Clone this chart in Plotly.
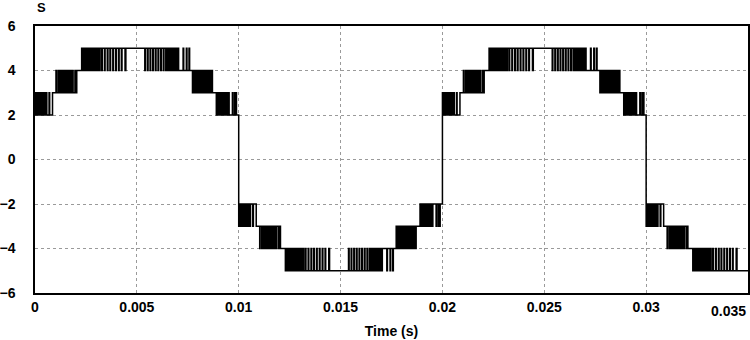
import plotly.graph_objects as go

# ---- data (times in ms, relative to half-cycle start) ----
half_cycle_starts_ms = [0, 10, 20, 30]
half_cycle_signs = [1, -1, 1, -1]
end_time_ms = 35.0
start_level = 2

band_A_up = [0.00, 0.03, 0.10, 0.13, 0.19, 0.22, 0.27, 0.31, 0.36, 0.40, 0.45, 0.49, 0.54, 0.58,
             0.69, 0.72, 0.86]
band_B_up = [1.03, 1.05, 1.13, 1.15, 1.21, 1.24, 1.30, 1.34, 1.39, 1.43, 1.48, 1.52, 1.57, 1.61,
             1.66, 1.70, 1.75, 1.79, 1.84, 1.87, 1.96, 1.98, 2.05]
band_C_up = [2.29, 2.31, 2.38, 2.41, 2.46, 2.50, 2.55, 2.59, 2.64, 2.68, 2.73, 2.77, 2.82, 2.86,
             2.91, 2.95, 3.00, 3.04, 3.09, 3.13, 3.19,
             3.27, 3.30, 3.41, 3.44, 3.55, 3.58, 3.68, 3.71, 3.82, 3.85, 3.96, 3.99, 4.10, 4.13,
             4.24, 4.27, 4.42, 4.46]
band_C_down = [5.39, 5.42, 5.52, 5.55, 5.65, 5.68, 5.78, 5.81, 5.91, 5.94, 6.04, 6.07, 6.17, 6.20,
               6.30, 6.33,
               6.42, 6.46, 6.51, 6.55, 6.60, 6.64, 6.69, 6.73, 6.78, 6.82, 6.87, 6.91, 6.96, 7.00,
               7.05,
               7.27, 7.30, 7.43, 7.46, 7.56, 7.59]
band_B_down = [7.73, 7.75, 7.81, 7.85, 7.90, 7.94, 7.99, 8.03, 8.08, 8.12, 8.17, 8.21, 8.26, 8.30,
               8.35, 8.39, 8.44, 8.48, 8.53, 8.60, 8.63, 8.68, 8.71]
band_A_down = [8.90, 8.93, 9.00, 9.03, 9.08, 9.12, 9.17, 9.21, 9.26, 9.30, 9.35, 9.39, 9.44, 9.48,
               9.53, 9.69, 9.72, 9.80, 9.83, 9.86, 9.89]

# each band: (low level, high level, starts at high?, toggle times)
bands = [
    (2, 3, False, band_A_up),
    (3, 4, False, band_B_up),
    (4, 5, False, band_C_up),
    (4, 5, True, band_C_down),
    (3, 4, True, band_B_down),
    (2, 3, True, band_A_down),
]

x_ticks = [0, 0.005, 0.01, 0.015, 0.02, 0.025, 0.03]
x_tick_text = ["0", "0.005", "0.01", "0.015", "0.02", "0.025", "0.03"]
last_x_tick_text = "0.035"
y_ticks = [-6, -4, -2, 0, 2, 4, 6]

# ---- build step waveform ----
xs, ys = [], []
for t0, s in zip(half_cycle_starts_ms, half_cycle_signs):
    xs.append(t0 / 1000.0)
    ys.append(s * start_level)
    for low, high, at_high, toggles in bands:
        state = at_high
        for t in toggles:
            tt = t0 + t
            if tt > end_time_ms:
                break
            state = not state
            xs.append(tt / 1000.0)
            ys.append(s * (high if state else low))
xs.append(end_time_ms / 1000.0)
ys.append(ys[-1])

FONT = "Liberation Sans, Arial, sans-serif"

fig = go.Figure()
fig.add_trace(go.Scatter(x=xs, y=ys, mode="lines", line=dict(color="black", width=1.5, shape="hv"),
                         hoverinfo="skip", showlegend=False))

grid = dict(showgrid=True, gridcolor="#9a9a9a", griddash="3px,3px", gridwidth=1,
            zeroline=False, showline=True, mirror=True, linecolor="black", linewidth=1.5,
            ticks="", tickfont=dict(family=FONT, size=14, color="black", weight="bold"))

fig.update_xaxes(range=[0, 0.035], tickvals=x_ticks, ticktext=x_tick_text, **grid,
                 title=dict(text="<b>Time (s)</b>", font=dict(family=FONT, size=14, color="black"),
                            standoff=13))
fig.update_yaxes(range=[-6, 6], tickvals=y_ticks, ticklabelstandoff=15, **grid)

fig.add_annotation(text="<b>S</b>", x=0, xref="paper", xanchor="left", y=1, yref="paper",
                   yanchor="bottom", yshift=9, showarrow=False,
                   font=dict(family=FONT, size=13, color="black"))
fig.add_annotation(text="<b>" + last_x_tick_text + "</b>", x=1, xref="paper", xanchor="right",
                   y=0, yref="paper", yanchor="top", yshift=-8, showarrow=False,
                   font=dict(family=FONT, size=14, color="black"))

fig.update_layout(width=750, height=340, margin=dict(l=35, r=2, t=26, b=47, autoexpand=False),
                  plot_bgcolor="white", paper_bgcolor="white", hovermode=False)

# remove the browser's default page margin so the figure fills the window exactly
fig.write_html("out.html", config={"displayModeBar": False},
               post_script="document.body.style.margin='0';")
